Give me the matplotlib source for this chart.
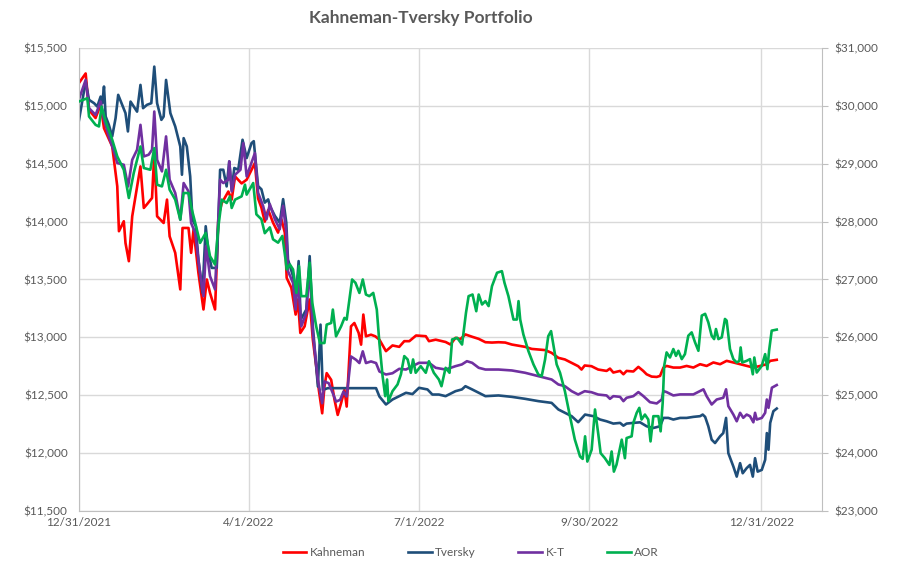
import numpy as np
import pandas as pd
import matplotlib
matplotlib.use("Agg")
import matplotlib.pyplot as plt
from matplotlib.ticker import FuncFormatter, MultipleLocator

plt.rcParams['font.family'] = ['Lato', 'DejaVu Sans']

# calendar days after 12/31/2021
start = pd.Timestamp("2021-12-31")

kahneman_day = [0, 3.7, 5.5, 9.0, 11.7, 13.5, 17.9, 20.6, 21.5, 24.1,
                25.0, 26.8, 28.6, 33.0, 34.8, 36.5, 39.2, 40.4, 41.9, 45.4,
                47.2, 48.6, 51.6, 54.3, 55.5, 58.7, 60.1, 61.4, 64.0, 66.7,
                68.5, 70.2, 72.9, 74.7, 76.5, 80.0, 81.8, 83.6, 87.1, 89.8,
                94.2, 95.9, 97.7, 99.5, 101.3, 102.2, 103.9, 106.6, 108.4, 110.2,
                111.2, 113.7, 116.0, 117.2, 118.5, 120.8, 123.5, 125.2, 127.0, 128.4,
                130.2, 131.4, 132.6, 135.0, 136.8, 138.5, 140.3, 142.1, 143.3, 145.6,
                147.4, 149.7, 151.0, 152.2, 153.6, 156.3, 158.6, 160.8, 164.3, 167.8,
                171.4, 174.1, 176.8, 180.4, 185.6, 187.3, 190.9, 196.2, 198.8, 201.5,
                204.1, 206.8, 210.4, 213.9, 217.5, 221.0, 224.5, 228.1, 231.6, 238.7,
                242.3, 245.8, 249.4, 252.9, 256.5, 260.0, 263.6, 267.1, 268.9, 270.6,
                274.2, 277.8, 282.3, 284.1, 285.9, 289.5, 291.3, 293.0, 296.6, 299.3,
                301.9, 303.7, 306.4, 309.1, 310.9, 312.7, 314.4, 318.0, 321.6, 325.1,
                328.7, 332.3, 335.8, 339.4, 343.0, 346.5, 350.1, 353.7, 357.2, 360.8,
                364.4, 368.0, 369.8, 373.3]
kahneman = [15195, 15280, 14965, 14895, 15010, 14807, 14650, 14305, 13917, 14003,
            13815, 13658, 14046, 14477, 14118, 14150, 14204, 14592, 14046, 13988,
            14190, 13873, 13730, 13414, 13945, 13945, 13730, 13930, 13557, 13241,
            13500, 13385, 13241, 14046, 14160, 14260, 14190, 14390, 14330, 14362,
            14506, 14200, 14120, 14000, 14100, 14064, 13991, 13905, 14020, 13905,
            13514, 13428, 13197, 13327, 13038, 13095, 13327, 12980, 12749, 12546,
            12344, 12575, 12691, 12633, 12460, 12330, 12431, 12546, 12402, 13095,
            13124, 13038, 12937, 13197, 13009, 13023, 13009, 12980, 12881, 12930,
            12918, 12967, 12967, 13016, 13010, 12967, 12980, 12960, 12938, 12996,
            12985, 13025, 13005, 12987, 12958, 12955, 12958, 12955, 12938, 12918,
            12900, 12895, 12890, 12866, 12823, 12809, 12780, 12751, 12722, 12757,
            12751, 12722, 12710, 12730, 12696, 12710, 12681, 12710, 12705, 12745,
            12710, 12681, 12661, 12658, 12667, 12739, 12753, 12739, 12739, 12753,
            12739, 12768, 12753, 12783, 12768, 12797, 12783, 12768, 12753, 12739,
            12753, 12768, 12797, 12806]

tversky_day = [0, 2.0, 3.7, 5.5, 8.2, 9.9, 11.7, 12.6, 13.5, 14.4,
               16.1, 17.9, 19.7, 21.1, 23.2, 25.0, 26.3, 27.7, 29.4, 31.2,
               33.0, 34.4, 36.5, 38.8, 40.4, 41.9, 44.2, 45.4, 46.7, 49.0,
               51.6, 54.3, 55.2, 56.1, 57.8, 59.6, 60.8, 62.6, 64.0, 66.2,
               67.9, 69.4, 71.1, 73.8, 75.6, 77.3, 79.1, 80.5, 81.8, 83.2,
               85.3, 87.6, 89.8, 92.4, 93.6, 95.9, 97.7, 99.5, 101.3, 102.2,
               104.9, 107.5, 109.3, 111.0, 111.9, 114.6, 116.0, 117.6, 118.7, 121.7,
               123.5, 125.2, 127.9, 129.3, 130.5, 133.2, 159.0, 160.8, 164.3, 167.8,
               171.4, 175.0, 178.5, 182.0, 186.5, 189.1, 192.6, 196.2, 201.5, 204.9,
               206.8, 210.4, 213.9, 217.5, 224.5, 231.6, 238.7, 245.8, 252.9, 256.5,
               260.0, 263.6, 267.1, 270.8, 275.2, 278.8, 282.3, 285.9, 289.5, 291.3,
               293.0, 296.6, 300.2, 303.7, 307.3, 310.9, 312.7, 315.3, 318.0, 321.6,
               325.1, 328.7, 332.3, 333.7, 335.0, 336.7, 338.5, 340.3, 343.0, 344.7,
               346.2, 347.4, 350.1, 351.9, 353.7, 355.1, 357.2, 359.0, 360.5, 361.7,
               363.1, 365.3, 367.1, 368.0, 368.9, 369.8, 371.5, 373.3]
tversky = [14865, 15052, 15210, 15052, 15023, 14994, 15080, 15023, 15167, 14908,
           14836, 14736, 14894, 15095, 15009, 14937, 14779, 15037, 14994, 14950,
           15181, 14980, 15009, 15023, 15339, 15023, 14879, 14908, 15224, 14937,
           14822, 14649, 14405, 14721, 14649, 14391, 14017, 13960, 13672, 13385,
           13960, 13730, 13600, 13600, 14448, 14448, 14304, 14520, 14276, 14463,
           14448, 14707, 14549, 14678, 14695, 14307, 14279, 14164, 14192, 14136,
           14049, 13991, 14194, 13991, 13673, 13529, 13298, 13659, 13153, 13240,
           13702, 13095, 12575, 13110, 12546, 12561, 12561, 12489, 12420, 12463,
           12492, 12521, 12510, 12564, 12550, 12506, 12506, 12492, 12535, 12550,
           12578, 12550, 12521, 12492, 12498, 12486, 12469, 12449, 12434, 12377,
           12348, 12319, 12267, 12333, 12319, 12290, 12275, 12255, 12261, 12237,
           12255, 12261, 12266, 12232, 12217, 12232, 12304, 12304, 12290, 12304,
           12304, 12313, 12319, 12333, 12313, 12232, 12116, 12087, 12145, 12173,
           12304, 12000, 11884, 11797, 11913, 11826, 11870, 11898, 11797, 11956,
           11840, 11855, 11942, 12173, 12029, 12261, 12362, 12385]

kt_day = [0, 3.7, 5.5, 9.0, 11.7, 13.5, 16.1, 18.8, 20.6, 24.1,
          26.4, 28.6, 31.2, 33.0, 34.8, 37.4, 39.2, 40.4, 41.9, 44.5,
          46.7, 48.6, 51.6, 54.3, 56.1, 58.7, 60.1, 62.3, 64.4, 66.7,
          68.1, 70.2, 72.9, 75.6, 77.3, 80.0, 80.5, 81.8, 83.6, 86.5,
          88.0, 89.8, 94.2, 95.9, 98.6, 100.4, 102.2, 104.9, 107.5, 109.3,
          111.0, 111.9, 114.6, 116.0, 117.2, 119.0, 121.7, 123.5, 125.2, 127.9,
          130.2, 131.4, 133.7, 135.9, 137.6, 139.8, 141.6, 143.3, 145.6, 148.3,
          150.1, 151.9, 153.6, 156.3, 159.0, 160.8, 164.3, 167.8, 171.4, 175.0,
          178.5, 182.0, 187.3, 190.9, 196.2, 201.5, 204.9, 207.6, 210.4, 213.9,
          217.5, 224.5, 231.6, 238.7, 245.8, 252.9, 256.5, 260.0, 263.6, 267.1,
          270.6, 274.2, 277.8, 282.3, 284.1, 285.9, 289.5, 291.3, 293.0, 296.6,
          299.3, 302.0, 305.5, 309.1, 311.8, 312.7, 314.4, 318.0, 321.6, 328.7,
          332.3, 334.1, 335.8, 338.5, 341.2, 344.7, 346.2, 347.4, 350.1, 351.9,
          353.7, 355.4, 357.2, 359.0, 360.8, 361.7, 362.6, 365.3, 367.1, 368.0,
          368.9, 370.7, 373.3]
kt = [15052, 15224, 14980, 14922, 15037, 14879, 14736, 14606, 14506, 14491,
      14304, 14534, 14621, 14836, 14563, 14578, 14621, 14951, 14534, 14434,
      14736, 14362, 14247, 14017, 14333, 14261, 13988, 13902, 13615, 13356,
      13787, 13529, 13414, 14362, 14333, 14362, 14520, 14261, 14405, 14448,
      14678, 14391, 14592, 14250, 14135, 14020, 14150, 14020, 13934, 14136,
      13905, 13572, 13471, 13240, 13529, 13095, 13211, 13616, 13038, 12633,
      12431, 12619, 12604, 12517, 12445, 12460, 12532, 12489, 12835, 12806,
      12778, 12879, 12778, 12792, 12778, 12705, 12679, 12690, 12728, 12722,
      12751, 12780, 12780, 12737, 12722, 12751, 12766, 12794, 12780, 12737,
      12722, 12722, 12714, 12694, 12665, 12636, 12593, 12578, 12535, 12506,
      12535, 12526, 12506, 12498, 12469, 12492, 12486, 12449, 12478, 12492,
      12527, 12492, 12440, 12429, 12463, 12536, 12527, 12498, 12507, 12507,
      12536, 12551, 12492, 12420, 12463, 12478, 12551, 12406, 12333, 12275,
      12348, 12305, 12333, 12319, 12266, 12348, 12290, 12304, 12348, 12463,
      12391, 12565, 12588]

# AOR is on the secondary (right) axis
aor_day = [0, 4.6, 5.5, 9.0, 10.8, 12.2, 14.4, 17.9, 20.6, 24.1,
           26.8, 29.4, 33.0, 34.8, 38.3, 40.4, 41.9, 44.5, 46.7, 48.6,
           51.6, 54.3, 56.1, 58.7, 60.5, 62.3, 64.9, 67.9, 70.2, 72.9,
           74.7, 76.5, 79.1, 80.9, 81.8, 83.6, 87.1, 88.9, 89.8, 93.3,
           95.0, 97.7, 99.5, 102.2, 103.9, 106.6, 108.9, 110.6, 111.2, 112.9,
           114.6, 116.4, 117.8, 119.0, 121.7, 123.5, 124.9, 127.0, 129.0, 131.4,
           132.6, 135.0, 135.9, 137.6, 140.3, 142.1, 143.3, 146.2, 148.0, 150.1,
           151.9, 153.6, 155.4, 157.5, 159.4, 160.8, 162.5, 163.9, 164.9, 165.6,
           167.8, 170.5, 172.3, 174.1, 175.9, 177.6, 178.8, 180.2, 182.9, 185.6,
           187.3, 189.9, 192.6, 194.0, 196.2, 198.3, 199.7, 202.4, 205.0, 207.1,
           208.5, 210.6, 212.6, 213.9, 215.7, 217.5, 219.2, 221.0, 223.7, 226.3,
           227.7, 229.8, 232.5, 234.3, 235.2, 236.1, 237.8, 240.5, 243.2, 245.8,
           247.6, 249.4, 251.1, 252.6, 253.8, 255.6, 257.4, 260.0, 262.7, 265.3,
           268.1, 269.5, 270.8, 272.0, 274.3, 276.1, 277.9, 279.1, 281.4, 283.8,
           285.0, 286.2, 287.6, 290.4, 292.1, 293.0, 295.7, 296.6, 298.4, 299.8,
           301.0, 302.8, 304.6, 305.8, 307.3, 310.0, 311.2, 312.3, 313.1, 314.4,
           316.2, 318.0, 319.4, 320.7, 322.5, 324.2, 326.0, 327.8, 329.6, 331.4,
           333.2, 335.0, 336.7, 338.5, 339.8, 340.8, 342.1, 343.9, 345.6, 346.5,
           348.3, 350.1, 351.9, 353.3, 354.0, 354.9, 357.2, 359.0, 360.5, 361.3,
           362.6, 365.3, 367.1, 368.3, 369.2, 370.6, 373.3]
aor = [30074, 30132, 29816, 29672, 29644, 29988, 29730, 29414, 29126, 28896,
       28408, 28838, 29298, 28926, 28896, 29270, 28638, 28608, 28896, 28552,
       28380, 28034, 28494, 28494, 28206, 27976, 27632, 27804, 27402, 27258,
       27920, 28380, 28322, 28436, 28236, 28380, 28436, 28638, 28466, 28666,
       28126, 28040, 27800, 27900, 27694, 27636, 27752, 27346, 27174, 27260,
       27174, 26768, 27232, 26712, 26712, 27290, 26596, 26190, 25902, 25902,
       26220, 26248, 26480, 26018, 26190, 26336, 26306, 27000, 26942, 26768,
       27000, 26740, 26712, 26768, 26480, 25902, 25330, 24984, 25272, 24898,
       25070, 25186, 25360, 25676, 25618, 25388, 25618, 25388, 25502, 25388,
       25588, 25388, 25272, 25156, 25474, 25388, 25964, 25992, 25876, 26424,
       26712, 26740, 26452, 26740, 26568, 26626, 26540, 26884, 27116, 27144,
       26942, 26712, 26308, 26308, 26626, 26308, 26050, 25762, 25532, 25358,
       25330, 25618, 26020, 26108, 25876, 25532, 25388, 25070, 24638, 24236,
       23942, 23900, 24290, 23854, 24058, 24754, 24318, 24000, 23912, 23796,
       24028, 23680, 23800, 24232, 23912, 24260, 24290, 24522, 24696, 24782,
       24580, 24666, 24580, 24202, 24638, 24638, 24376, 24870, 25508, 25740,
       25652, 25798, 25680, 25768, 25624, 25710, 26028, 26086, 25914, 25768,
       26376, 26406, 26260, 26028, 25970, 26144, 25970, 26000, 26318, 26290,
       25798, 25624, 25566, 25594, 25826, 25566, 25594, 25624, 25362, 25652,
       25392, 25508, 25710, 25450, 25768, 26116, 26134]

tick_dates = ["2021-12-31", "2022-04-01", "2022-07-01", "2022-09-30", "2022-12-31"]


def to_dates(days):
    return start + pd.to_timedelta(np.array(days), unit="D")


txt = "#595959"
grid = "#D9D9D9"

fig = plt.figure(figsize=(9.02, 5.74), dpi=100)
ax = fig.add_axes([0.0873, 0.1098, 0.8240, 0.8066])
ax2 = ax.twinx()

ax.plot(to_dates(kahneman_day), kahneman, color="#FF0000", lw=1.9, label="Kahneman")
ax.plot(to_dates(tversky_day), tversky, color="#1F4E79", lw=1.9, label="Tversky")
ax.plot(to_dates(kt_day), kt, color="#7030A0", lw=1.9, label="K-T")
ax2.plot(to_dates(aor_day), aor, color="#00B050", lw=1.9, label="AOR")

ax.set_xlim(start, start + pd.Timedelta(days=397.5))
ticks = pd.to_datetime(tick_dates)
ax.set_xticks(ticks)
ax.set_xticklabels([f"{d.month}/{d.day}/{d.year}" for d in ticks])

ax.set_ylim(11500, 15500)
ax.yaxis.set_major_locator(MultipleLocator(500))
ax2.set_ylim(23000, 31000)
ax2.yaxis.set_major_locator(MultipleLocator(1000))
money = FuncFormatter(lambda v, p: f"${v:,.0f}")
ax.yaxis.set_major_formatter(money)
ax2.yaxis.set_major_formatter(money)

ax.grid(True, color=grid, lw=1)
ax.set_axisbelow(True)
for a in (ax, ax2):
    for s in a.spines.values():
        s.set_visible(False)
ax.spines["left"].set_visible(True)
ax.spines["left"].set_color("#BFBFBF")
ax.spines["bottom"].set_visible(True)
ax.spines["bottom"].set_color("#BFBFBF")
ax2.spines["right"].set_visible(True)
ax2.spines["right"].set_color("#BFBFBF")

ax.tick_params(axis="y", length=0, labelsize=8.5, labelcolor=txt, pad=8)
ax.tick_params(axis="x", length=0, labelsize=8.5, labelcolor=txt, pad=4)
ax2.tick_params(axis="y", length=4, color="#BFBFBF", labelsize=8.5, labelcolor=txt, pad=5)

fig.text(0.466, 0.968, "Kahneman-Tversky Portfolio", ha="center", va="center",
         fontsize=12.5, fontweight="bold", color=txt)

h1, l1 = ax.get_legend_handles_labels()
h2, l2 = ax2.get_legend_handles_labels()
fig.legend(h1 + h2, l1 + l2, loc="center", bbox_to_anchor=(0.522, 0.038), ncol=4,
           frameon=False, fontsize=8.5, labelcolor=txt, handlelength=2.0,
           handletextpad=0.3, columnspacing=3.6)

fig.savefig("out.png", dpi=100)
